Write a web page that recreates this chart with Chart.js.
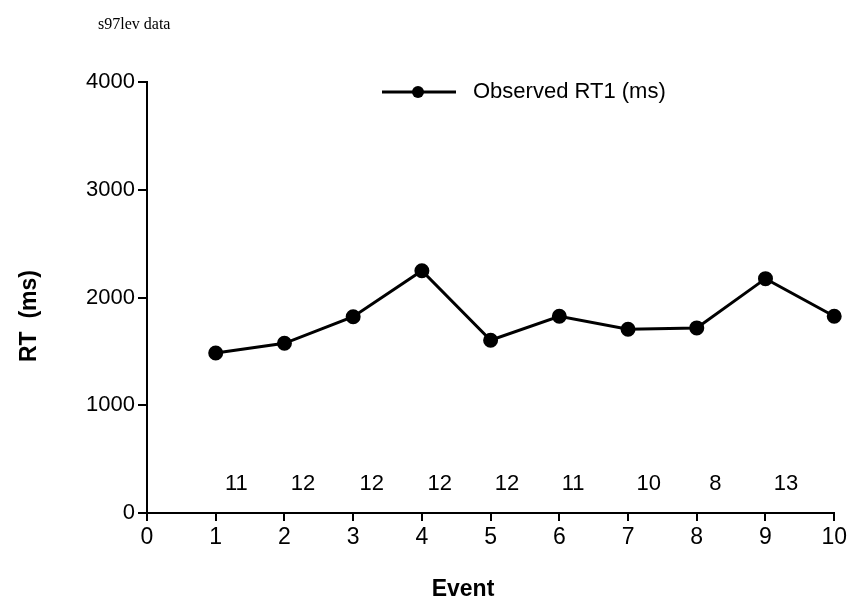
<!DOCTYPE html>
<html>
<head>
<meta charset="utf-8">
<script src="https://cdn.jsdelivr.net/npm/chart.js@4"></script>
<style>
    html, body { margin: 0; padding: 0; background: #fff; }
    #wrap { width: 850px; height: 603px; position: relative; }
</style>
</head>
<body>
<div id="wrap"><canvas id="rt-chart" width="850" height="603"></canvas></div>
<script>
// Datos
const events = [1, 2, 3, 4, 5, 6, 7, 8, 9, 10];
const observedRT = [1485, 1575, 1822, 2248, 1603, 1826, 1705, 1718, 2175, 1826];
const countLabels = ["11", "12", "12", "12", "12", "11", "10", "8", "13"];
const countX = [1.3, 2.27, 3.27, 4.26, 5.24, 6.2, 7.3, 8.27, 9.3];
const countY = 270;
const yTicks = [0, 1000, 2000, 3000, 4000];

const FONT = "'Liberation Sans', Arial, sans-serif";
const NARROW = "'Liberation Sans Narrow', 'Arial Narrow', 'Liberation Sans', sans-serif";

// Textos, leyenda y números de sujetos
const extrasPlugin = {
    id: "extras",
    afterDraw(chart) {
        const ctx = chart.ctx;
        const xs = chart.scales.x;
        const ys = chart.scales.y;
        ctx.save();
        ctx.fillStyle = "#000";

        // Título superior
        ctx.font = "16px 'Liberation Serif', 'Times New Roman', serif";
        ctx.textAlign = "left";
        ctx.textBaseline = "middle";
        ctx.fillText("s97lev data", 98, 25);

        // Título eje X
        ctx.font = "bold 23px " + FONT;
        ctx.textAlign = "center";
        ctx.fillText("Event", 463, 590);

        // Título eje Y
        ctx.save();
        ctx.translate(30, 316);
        ctx.rotate(-Math.PI / 2);
        ctx.font = "bold 23px " + FONT;
        ctx.fillText("RT  (ms)", 0, 0);
        ctx.restore();

        // Leyenda
        const ds = chart.data.datasets[0];
        ctx.strokeStyle = "#000";
        ctx.lineWidth = 3;
        ctx.beginPath();
        ctx.moveTo(382, 92);
        ctx.lineTo(456, 92);
        ctx.stroke();
        ctx.beginPath();
        ctx.arc(418, 92, 6, 0, Math.PI * 2);
        ctx.fill();
        ctx.font = "22px " + FONT;
        ctx.textAlign = "left";
        ctx.fillText(ds.label, 473, 92);

        // Número de casos por evento
        ctx.font = "22px " + NARROW;
        ctx.textAlign = "center";
        countLabels.forEach((txt, i) => {
            ctx.fillText(txt, xs.getPixelForValue(countX[i]), ys.getPixelForValue(countY));
        });
        ctx.restore();
    },
};

const ctx = document.getElementById("rt-chart").getContext("2d");
new Chart(ctx, {
    type: "line",
    data: {
        datasets: [
            {
                label: "Observed RT1 (ms)",
                data: events.map((e, i) => ({ x: e, y: observedRT[i] })),
                borderColor: "#000",
                backgroundColor: "#000",
                borderWidth: 3,
                pointRadius: 6,
                pointBackgroundColor: "#000",
                pointBorderColor: "#000",
                tension: 0,
                clip: false,
            },
        ],
    },
    options: {
        responsive: false,
        animation: false,
        layout: { padding: { left: 0, top: 82, right: 11, bottom: 0 } },
        plugins: {
            legend: { display: false },
            tooltip: { enabled: false },
        },
        scales: {
            x: {
                type: "linear",
                min: 0,
                max: 10,
                ticks: {
                    stepSize: 1,
                    color: "#000",
                    padding: 3,
                    font: { family: NARROW, size: 23 },
                },
                grid: {
                    drawOnChartArea: false,
                    drawTicks: true,
                    tickLength: 8,
                    color: "#000",
                    lineWidth: 2,
                },
                border: { color: "#000", width: 2 },
                afterFit(scale) {
                    scale.height = 90;
                },
            },
            y: {
                min: 0,
                max: 4000,
                afterBuildTicks(scale) {
                    scale.ticks = yTicks.map((v) => ({ value: v }));
                },
                ticks: {
                    color: "#000",
                    padding: 3,
                    font: { family: FONT, size: 22 },
                    callback: (v) => String(v),
                },
                grid: {
                    drawOnChartArea: false,
                    drawTicks: true,
                    tickLength: 9,
                    color: "#000",
                    lineWidth: 2,
                },
                border: { color: "#000", width: 2 },
                afterFit(scale) {
                    scale.width = 147;
                },
            },
        },
    },
    plugins: [extrasPlugin],
});
</script>
</body>
</html>
